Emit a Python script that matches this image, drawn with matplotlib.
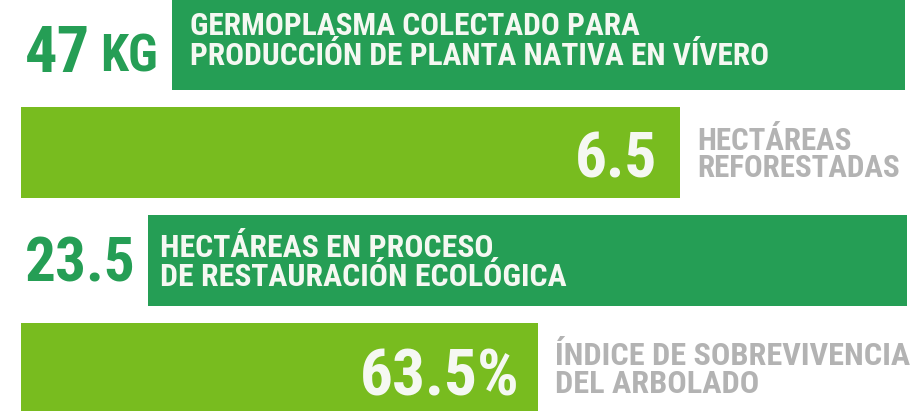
import matplotlib
matplotlib.use("Agg")
import matplotlib.pyplot as plt

# data
values = ["47", "6.5", "23.5", "63.5%"]
units = ["KG", "", "", ""]
labels = [
    ["GERMOPLASMA COLECTADO PARA", "PRODUCCIÓN DE PLANTA NATIVA EN VÍVERO"],
    ["HECTÁREAS", "REFORESTADAS"],
    ["HECTÁREAS EN PROCESO", "DE RESTAURACIÓN ECOLÓGICA"],
    ["ÍNDICE DE SOBREVIVENCIA", "DEL ARBOLADO"],
]

# layout (pixels, y grows downwards)
bar_left = [172, 21, 148, 21]
bar_right = [905, 680, 907, 538]
bar_top = [-5, 107, 215, 323]
bar_bottom = [90, 198, 306, 416]
value_x = [25, 657, 25, 520]
value_y = [72, 177, 281, 395]
value_size = [46.5, 45.5, 44, 47]
unit_x = [100, 0, 0, 0]
label_x = [190, 697, 160, 555]
label_y = [(35, 65), (150, 177), (257, 286), (365, 393)]
label_size = [22.6, 22.3, 22.9, 23.2]

DARK = "#259E55"
LIGHT = "#78BC1F"
GRAY = "#B3B3B3"
WHITE = "#F5F8F2"
FONT = "Roboto Condensed"

fig = plt.figure(figsize=(9.19, 4.11), dpi=100)
ax = fig.add_axes([0, 0, 1, 1])
ax.set_xlim(0, 919)
ax.set_ylim(411, 0)
ax.axis("off")

for i in range(4):
    dark = i % 2 == 0
    color = DARK if dark else LIGHT
    ax.barh((bar_top[i] + bar_bottom[i]) / 2, bar_right[i] - bar_left[i],
            height=bar_bottom[i] - bar_top[i], left=bar_left[i], color=color)

    # big number: green outside the bar on dark rows, white inside on light rows
    if dark:
        ax.text(value_x[i], value_y[i], values[i], color=DARK, fontsize=value_size[i],
                family=FONT, weight="bold", ha="left", va="baseline")
        if units[i]:
            ax.text(unit_x[i], value_y[i], units[i], color=DARK, fontsize=36.5,
                    family=FONT, weight="bold", ha="left", va="baseline")
        txt_color = WHITE
    else:
        ax.text(value_x[i], value_y[i], values[i], color=WHITE, fontsize=value_size[i],
                family=FONT, weight="bold", ha="right", va="baseline")
        txt_color = GRAY

    for line, y in zip(labels[i], label_y[i]):
        ax.text(label_x[i], y, line, color=txt_color, fontsize=label_size[i],
                family=FONT, weight="bold", ha="left", va="baseline")

fig.savefig("out.png", dpi=100)
